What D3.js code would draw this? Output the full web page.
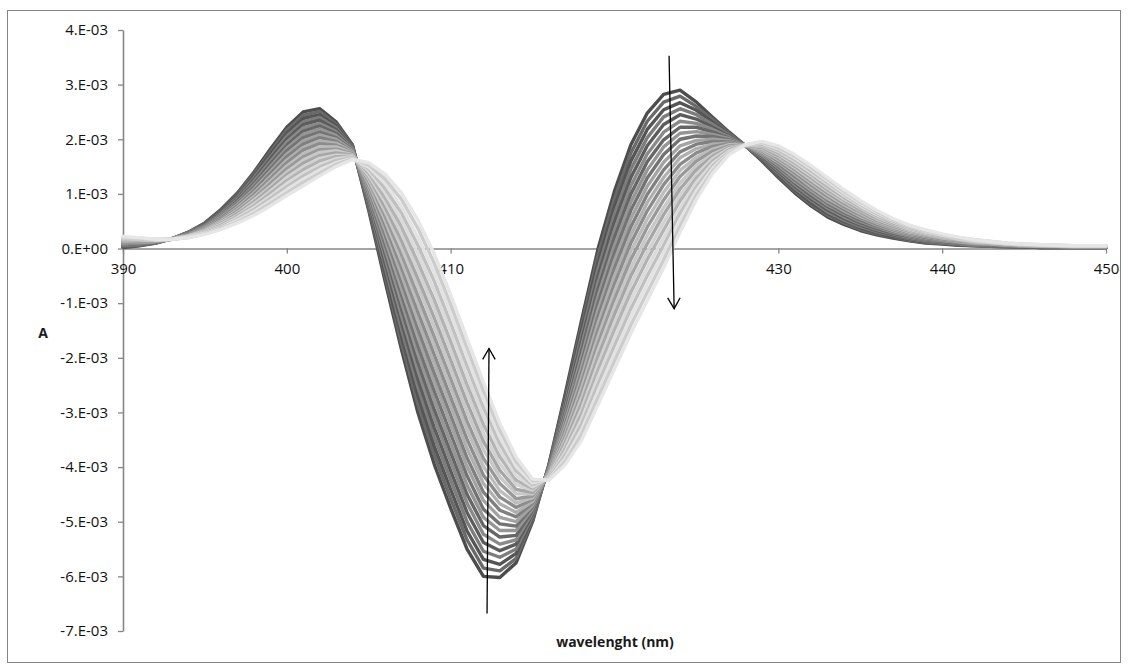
<!DOCTYPE html>
<html>
<head>
<meta charset="utf-8">
<script src="https://cdn.jsdelivr.net/npm/d3@7"></script>
<style>
  html, body { margin: 0; padding: 0; background: #ffffff; }
  svg { display: block; }
  text { font-family: "Open Sans", "Noto Sans", "Liberation Sans", sans-serif; fill: #1a1a1a; }
  .axis .tick text { font-size: 15px; fill: #111111; }
</style>
</head>
<body>
<svg id="chart" width="1128" height="670"></svg>
<script>
// Wavelength grid (nm) shared by every spectrum
const wavelengths = [
  390,391,392,393,394,395,396,397,398,399,
  400,401,402,403,404,405,406,407,408,409,
  410,411,412,413,414,415,416,417,418,419,
  420,421,422,423,424,425,426,427,428,429,
  430,431,432,433,434,435,436,437,438,439,
  440,441,442,443,444,445,446,447,448,449,450
];

// Axis ticks
const xTickValues = [390, 400, 410, 420, 430, 440, 450];
const yTickValues = [4, 3, 2, 1, 0, -1, -2, -3, -4, -5, -6, -7];
const yTickLabels = ["4.E-03","3.E-03","2.E-03","1.E-03","0.E+00","-1.E-03","-2.E-03","-3.E-03","-4.E-03","-5.E-03","-6.E-03","-7.E-03"];

// Spectra, absorbance in units of 1e-3, one array per recorded scan (first to last)
const scan01 = [0.02,0.05,0.10,0.18,0.30,0.47,0.72,1.02,1.40,1.82, 2.22,2.50,2.56,2.32,1.90,0.70,-0.60,-1.85,-3.00,-3.95, -4.75,-5.50,-6.00,-6.02,-5.75,-5.00,-3.95,-2.65,-1.30,0.00, 1.05,1.90,2.48,2.82,2.90,2.68,2.40,2.13,1.88,1.60, 1.30,1.02,0.78,0.58,0.44,0.33,0.25,0.19,0.14,0.10, 0.08,0.06,0.05,0.04,0.03,0.03,0.02,0.02,0.02,0.02,0.02];
const scan02 = [0.03,0.06,0.10,0.18,0.30,0.46,0.70,1.00,1.37,1.77, 2.17,2.44,2.51,2.28,1.89,0.74,-0.51,-1.73,-2.85,-3.78, -4.58,-5.33,-5.85,-5.90,-5.67,-4.97,-3.96,-2.71,-1.40,-0.12, 0.91,1.75,2.33,2.68,2.79,2.60,2.36,2.11,1.88,1.62, 1.33,1.05,0.81,0.61,0.47,0.35,0.27,0.21,0.15,0.11, 0.09,0.07,0.05,0.04,0.03,0.03,0.02,0.02,0.02,0.02,0.02];
const scan03 = [0.04,0.06,0.11,0.18,0.29,0.45,0.69,0.97,1.33,1.73, 2.11,2.38,2.45,2.25,1.88,0.78,-0.43,-1.60,-2.69,-3.62, -4.41,-5.17,-5.69,-5.78,-5.58,-4.93,-3.98,-2.76,-1.49,-0.25, 0.77,1.60,2.18,2.54,2.67,2.53,2.31,2.09,1.88,1.63, 1.35,1.08,0.84,0.64,0.50,0.38,0.29,0.22,0.17,0.12, 0.10,0.07,0.06,0.05,0.04,0.03,0.02,0.02,0.02,0.02,0.02];
const scan04 = [0.05,0.07,0.11,0.18,0.29,0.44,0.67,0.95,1.30,1.68, 2.06,2.32,2.40,2.21,1.86,0.81,-0.34,-1.48,-2.54,-3.45, -4.24,-5.00,-5.54,-5.65,-5.50,-4.90,-3.99,-2.82,-1.59,-0.37, 0.63,1.45,2.03,2.41,2.56,2.45,2.27,2.08,1.88,1.65, 1.38,1.11,0.88,0.67,0.52,0.40,0.31,0.24,0.18,0.13, 0.10,0.08,0.06,0.05,0.04,0.04,0.03,0.03,0.02,0.02,0.02];
const scan05 = [0.05,0.08,0.11,0.18,0.28,0.43,0.66,0.92,1.26,1.64, 2.00,2.27,2.35,2.18,1.85,0.85,-0.26,-1.35,-2.39,-3.28, -4.07,-4.83,-5.38,-5.53,-5.41,-4.86,-4.00,-2.88,-1.68,-0.50, 0.49,1.30,1.88,2.27,2.45,2.37,2.22,2.06,1.88,1.66, 1.40,1.14,0.91,0.71,0.55,0.43,0.33,0.25,0.19,0.14, 0.11,0.09,0.07,0.06,0.04,0.04,0.03,0.03,0.03,0.03,0.03];
const scan06 = [0.06,0.08,0.12,0.18,0.28,0.42,0.64,0.90,1.23,1.59, 1.95,2.21,2.29,2.14,1.84,0.89,-0.17,-1.23,-2.23,-3.11, -3.90,-4.66,-5.23,-5.41,-5.33,-4.83,-4.01,-2.93,-1.78,-0.62, 0.34,1.15,1.73,2.13,2.33,2.29,2.18,2.04,1.88,1.68, 1.43,1.17,0.94,0.74,0.58,0.45,0.35,0.27,0.20,0.15, 0.12,0.09,0.07,0.06,0.05,0.04,0.03,0.03,0.03,0.03,0.03];
const scan07 = [0.07,0.09,0.12,0.18,0.27,0.42,0.62,0.88,1.19,1.55, 1.89,2.15,2.24,2.11,1.83,0.93,-0.09,-1.10,-2.08,-2.95, -3.73,-4.50,-5.07,-5.28,-5.25,-4.80,-4.03,-2.99,-1.87,-0.74, 0.20,1.00,1.59,1.99,2.22,2.22,2.13,2.02,1.89,1.69, 1.45,1.20,0.97,0.77,0.61,0.47,0.37,0.28,0.22,0.16, 0.13,0.10,0.08,0.06,0.05,0.04,0.03,0.03,0.03,0.03,0.03];
const scan08 = [0.08,0.10,0.12,0.18,0.27,0.41,0.61,0.85,1.16,1.50, 1.84,2.09,2.19,2.07,1.82,0.96,0.00,-0.98,-1.93,-2.78, -3.56,-4.33,-4.92,-5.16,-5.16,-4.76,-4.04,-3.05,-1.97,-0.87, 0.06,0.85,1.44,1.86,2.11,2.14,2.09,2.01,1.89,1.71, 1.48,1.23,1.01,0.80,0.64,0.50,0.39,0.30,0.23,0.17, 0.14,0.11,0.08,0.07,0.05,0.05,0.04,0.03,0.03,0.03,0.03];
const scan09 = [0.09,0.10,0.12,0.18,0.27,0.40,0.59,0.83,1.13,1.46, 1.79,2.03,2.13,2.03,1.81,1.00,0.08,-0.85,-1.78,-2.61, -3.39,-4.16,-4.77,-5.04,-5.08,-4.73,-4.05,-3.10,-2.07,-0.99, -0.08,0.70,1.29,1.72,2.00,2.06,2.05,1.99,1.89,1.73, 1.50,1.26,1.04,0.83,0.66,0.52,0.41,0.32,0.24,0.18, 0.15,0.11,0.09,0.07,0.05,0.05,0.04,0.03,0.03,0.03,0.03];
const scan10 = [0.10,0.11,0.13,0.18,0.26,0.39,0.58,0.81,1.09,1.41, 1.73,1.97,2.08,2.00,1.79,1.04,0.17,-0.73,-1.62,-2.44, -3.22,-3.99,-4.61,-4.92,-5.00,-4.70,-4.06,-3.16,-2.16,-1.12, -0.22,0.55,1.14,1.58,1.88,1.98,2.00,1.97,1.89,1.74, 1.53,1.29,1.07,0.86,0.69,0.55,0.43,0.33,0.25,0.19, 0.15,0.12,0.09,0.08,0.06,0.05,0.04,0.04,0.03,0.03,0.03];
const scan11 = [0.11,0.12,0.13,0.18,0.26,0.38,0.56,0.78,1.06,1.37, 1.68,1.91,2.03,1.96,1.78,1.08,0.25,-0.60,-1.47,-2.28, -3.05,-3.83,-4.46,-4.79,-4.91,-4.66,-4.08,-3.22,-2.26,-1.24, -0.36,0.40,0.99,1.44,1.77,1.91,1.96,1.95,1.89,1.76, 1.55,1.32,1.10,0.89,0.72,0.57,0.45,0.35,0.27,0.20, 0.16,0.13,0.10,0.08,0.06,0.05,0.04,0.04,0.03,0.03,0.03];
const scan12 = [0.12,0.12,0.13,0.18,0.25,0.37,0.54,0.76,1.02,1.32, 1.62,1.85,1.97,1.93,1.77,1.12,0.34,-0.48,-1.32,-2.11, -2.88,-3.66,-4.30,-4.67,-4.83,-4.63,-4.09,-3.27,-2.35,-1.36, -0.50,0.25,0.84,1.30,1.66,1.83,1.91,1.93,1.89,1.77, 1.58,1.36,1.13,0.92,0.75,0.59,0.47,0.36,0.28,0.22, 0.17,0.13,0.10,0.08,0.06,0.05,0.04,0.04,0.03,0.03,0.03];
const scan13 = [0.12,0.13,0.14,0.17,0.25,0.36,0.53,0.73,0.99,1.28, 1.57,1.80,1.92,1.89,1.76,1.15,0.42,-0.35,-1.16,-1.94, -2.72,-3.49,-4.15,-4.55,-4.74,-4.59,-4.10,-3.33,-2.45,-1.49, -0.65,0.10,0.69,1.17,1.54,1.75,1.87,1.92,1.89,1.79, 1.60,1.39,1.17,0.96,0.77,0.62,0.49,0.38,0.29,0.23, 0.18,0.14,0.11,0.09,0.07,0.06,0.05,0.04,0.04,0.04,0.04];
const scan14 = [0.13,0.14,0.14,0.17,0.24,0.35,0.51,0.71,0.95,1.23, 1.51,1.74,1.86,1.86,1.75,1.19,0.51,-0.23,-1.01,-1.77, -2.55,-3.32,-3.99,-4.43,-4.66,-4.56,-4.11,-3.39,-2.54,-1.61, -0.79,-0.05,0.54,1.03,1.43,1.67,1.82,1.90,1.89,1.80, 1.63,1.42,1.20,0.99,0.80,0.64,0.50,0.39,0.30,0.24, 0.19,0.15,0.11,0.09,0.07,0.06,0.05,0.04,0.04,0.04,0.04];
const scan15 = [0.14,0.14,0.14,0.17,0.24,0.34,0.49,0.69,0.92,1.19, 1.46,1.68,1.81,1.82,1.74,1.23,0.59,-0.10,-0.86,-1.61, -2.38,-3.16,-3.84,-4.30,-4.58,-4.53,-4.13,-3.44,-2.64,-1.73, -0.93,-0.20,0.39,0.89,1.32,1.60,1.78,1.88,1.89,1.82, 1.65,1.45,1.23,1.02,0.83,0.67,0.52,0.41,0.32,0.25, 0.20,0.15,0.12,0.10,0.07,0.06,0.05,0.04,0.04,0.04,0.04];
const scan16 = [0.15,0.15,0.15,0.17,0.23,0.33,0.48,0.66,0.89,1.14, 1.40,1.62,1.76,1.79,1.72,1.27,0.68,0.02,-0.70,-1.44, -2.21,-2.99,-3.68,-4.18,-4.49,-4.49,-4.14,-3.50,-2.73,-1.86, -1.07,-0.35,0.24,0.75,1.20,1.52,1.73,1.86,1.89,1.83, 1.68,1.48,1.26,1.05,0.86,0.69,0.54,0.43,0.33,0.26, 0.20,0.16,0.12,0.10,0.08,0.06,0.05,0.05,0.04,0.04,0.04];
const scan17 = [0.16,0.15,0.15,0.17,0.23,0.32,0.46,0.64,0.85,1.10, 1.35,1.56,1.70,1.75,1.71,1.31,0.76,0.15,-0.55,-1.27, -2.04,-2.82,-3.53,-4.06,-4.41,-4.46,-4.15,-3.55,-2.83,-1.98, -1.21,-0.50,0.09,0.62,1.09,1.44,1.69,1.85,1.89,1.85, 1.70,1.51,1.30,1.08,0.89,0.71,0.56,0.44,0.34,0.27, 0.21,0.16,0.13,0.10,0.08,0.07,0.06,0.05,0.04,0.04,0.04];
const scan18 = [0.17,0.16,0.15,0.17,0.23,0.32,0.45,0.61,0.82,1.05, 1.30,1.50,1.65,1.71,1.70,1.34,0.85,0.27,-0.40,-1.10, -1.87,-2.65,-3.38,-3.94,-4.32,-4.42,-4.16,-3.61,-2.93,-2.11, -1.35,-0.65,-0.06,0.48,0.98,1.36,1.65,1.83,1.90,1.87, 1.73,1.54,1.33,1.11,0.91,0.74,0.58,0.46,0.35,0.28, 0.22,0.17,0.13,0.11,0.08,0.07,0.06,0.05,0.04,0.04,0.04];
const scan19 = [0.18,0.17,0.16,0.17,0.22,0.31,0.43,0.59,0.78,1.01, 1.24,1.44,1.60,1.68,1.69,1.38,0.93,0.40,-0.25,-0.94, -1.70,-2.49,-3.22,-3.81,-4.24,-4.39,-4.18,-3.67,-3.02,-2.23, -1.49,-0.80,-0.20,0.34,0.87,1.29,1.60,1.81,1.90,1.88, 1.75,1.57,1.36,1.14,0.94,0.76,0.60,0.47,0.37,0.29, 0.23,0.18,0.14,0.11,0.09,0.07,0.06,0.05,0.04,0.04,0.04];
const scan20 = [0.19,0.17,0.16,0.17,0.22,0.30,0.41,0.57,0.75,0.96, 1.19,1.38,1.54,1.64,1.68,1.42,1.02,0.52,-0.09,-0.77, -1.53,-2.32,-3.07,-3.69,-4.16,-4.36,-4.19,-3.72,-3.12,-2.35, -1.63,-0.95,-0.35,0.20,0.75,1.21,1.56,1.79,1.90,1.90, 1.78,1.60,1.39,1.18,0.97,0.78,0.62,0.49,0.38,0.30, 0.24,0.18,0.14,0.11,0.09,0.07,0.06,0.05,0.05,0.05,0.05];
const scan21 = [0.19,0.18,0.16,0.17,0.21,0.29,0.40,0.54,0.71,0.92, 1.13,1.33,1.49,1.61,1.67,1.46,1.10,0.65,0.06,-0.60, -1.36,-2.15,-2.91,-3.57,-4.07,-4.32,-4.20,-3.78,-3.21,-2.48, -1.78,-1.10,-0.50,0.06,0.64,1.13,1.51,1.77,1.90,1.91, 1.80,1.63,1.42,1.21,1.00,0.81,0.64,0.50,0.39,0.31, 0.25,0.19,0.15,0.12,0.09,0.07,0.06,0.05,0.05,0.05,0.05];
const scan22 = [0.20,0.19,0.16,0.17,0.21,0.28,0.38,0.52,0.68,0.87, 1.08,1.27,1.44,1.57,1.65,1.49,1.19,0.77,0.21,-0.44, -1.19,-1.99,-2.76,-3.45,-3.99,-4.29,-4.22,-3.84,-3.31,-2.60, -1.92,-1.25,-0.65,-0.07,0.53,1.06,1.47,1.76,1.90,1.93, 1.83,1.66,1.46,1.24,1.02,0.83,0.66,0.52,0.41,0.32, 0.25,0.20,0.15,0.12,0.09,0.08,0.07,0.06,0.05,0.05,0.05];
const scan23 = [0.21,0.19,0.17,0.17,0.20,0.27,0.37,0.49,0.64,0.83, 1.02,1.21,1.38,1.54,1.64,1.53,1.27,0.90,0.37,-0.27, -1.02,-1.82,-2.60,-3.32,-3.90,-4.25,-4.23,-3.89,-3.40,-2.73, -2.06,-1.40,-0.80,-0.21,0.41,0.98,1.42,1.74,1.90,1.94, 1.85,1.69,1.49,1.27,1.05,0.86,0.68,0.53,0.42,0.33, 0.26,0.20,0.16,0.13,0.10,0.08,0.07,0.06,0.05,0.05,0.05];
const scan24 = [0.22,0.20,0.17,0.17,0.20,0.26,0.35,0.47,0.61,0.78, 0.97,1.15,1.33,1.50,1.63,1.57,1.36,1.02,0.52,-0.10, -0.85,-1.65,-2.45,-3.20,-3.82,-4.22,-4.24,-3.95,-3.50,-2.85, -2.20,-1.55,-0.95,-0.35,0.30,0.90,1.38,1.72,1.90,1.96, 1.88,1.72,1.52,1.30,1.08,0.88,0.70,0.55,0.43,0.34, 0.27,0.21,0.16,0.13,0.10,0.08,0.07,0.06,0.05,0.05,0.05];

const scans = [scan01,scan02,scan03,scan04,scan05,scan06,scan07,scan08,scan09,scan10,scan11,scan12,
               scan13,scan14,scan15,scan16,scan17,scan18,scan19,scan20,scan21,scan22,scan23,scan24];

// Grey shades per scan: alternating monochrome cycle drifting from dark to light
const scanColors = [
  "#4d4d4d","#6a6a6a","#555555","#7d7d7d","#5c5c5c","#8a8a8a",
  "#666666","#969696","#737373","#a3a3a3","#808080","#b0b0b0",
  "#8c8c8c","#bdbdbd","#999999","#c8c8c8","#a6a6a6","#d2d2d2",
  "#b3b3b3","#dbdbdb","#c0c0c0","#e3e3e3","#cccccc","#e6e6e6"
];

const svg = d3.select("#chart");
const plot = { left: 123, right: 1106, top: 30, bottom: 631 };
const axisGrey = "#868686";
const fontStack = "\"Open Sans\", \"Noto Sans\", sans-serif";

const x = d3.scaleLinear().domain([390, 450]).range([plot.left, plot.right]);
const y = d3.scaleLinear().domain([-7, 4]).range([plot.bottom, plot.top]);

// chart frame
svg.append("rect")
  .attr("x", 7.5).attr("y", 10.5)
  .attr("width", 1113).attr("height", 652)
  .attr("fill", "#ffffff")
  .attr("stroke", axisGrey).attr("stroke-width", 1);

// value axis
const yAxis = svg.append("g")
  .attr("class", "axis")
  .attr("transform", `translate(${plot.left},0)`)
  .call(d3.axisLeft(y)
    .tickValues(yTickValues)
    .tickFormat((d, i) => yTickLabels[i])
    .tickSize(5).tickSizeOuter(0).tickPadding(10));

// category axis crossing at zero
const xAxis = svg.append("g")
  .attr("class", "axis")
  .attr("transform", `translate(0,${y(0)})`)
  .call(d3.axisBottom(x)
    .tickValues(xTickValues)
    .tickFormat(d3.format("d"))
    .tickSize(5).tickSizeOuter(0).tickPadding(10));

[yAxis, xAxis].forEach(g => {
  g.attr("font-family", null).attr("font-size", null);
  g.select(".domain").attr("stroke", axisGrey).attr("stroke-width", 1.6);
  g.selectAll(".tick line").attr("stroke", axisGrey).attr("stroke-width", 1.3);
  g.selectAll(".tick text")
    .style("font-family", fontStack)
    .style("font-size", "15px")
    .attr("fill", "#111111");
});

// spectra
const line = d3.line()
  .x((d, i) => x(wavelengths[i]))
  .y(d => y(d));

svg.append("g").selectAll("path")
  .data(scans)
  .join("path")
  .attr("d", d => line(d))
  .attr("fill", "none")
  .attr("stroke", (d, i) => scanColors[i])
  .attr("stroke-width", 3.4)
  .attr("stroke-linejoin", "round")
  .attr("stroke-linecap", "round");

// axis titles
svg.append("text")
  .attr("x", 43).attr("y", 334)
  .attr("text-anchor", "middle").attr("dominant-baseline", "middle")
  .style("font-family", fontStack)
  .style("font-size", "14px").style("font-weight", "bold")
  .text("A");

svg.append("text")
  .attr("x", 615).attr("y", 643)
  .attr("text-anchor", "middle").attr("dominant-baseline", "middle")
  .style("font-family", fontStack)
  .style("font-size", "14px").style("font-weight", "bold")
  .text("wavelenght (nm)");

// trend arrows (wavelength, absorbance x1e-3)
const arrows = [
  { from: [412.22, -6.68], to: [412.34, -1.83] },
  { from: [423.33, 3.53], to: [423.64, -1.10] }
];

const arrowLayer = svg.append("g").attr("stroke", "#000").attr("stroke-width", 1.3).attr("fill", "none");
arrows.forEach(a => {
  const x1 = x(a.from[0]), y1 = y(a.from[1]);
  const x2 = x(a.to[0]), y2 = y(a.to[1]);
  arrowLayer.append("line").attr("x1", x1).attr("y1", y1).attr("x2", x2).attr("y2", y2);
  const ang = Math.atan2(y2 - y1, x2 - x1);
  const len = 12.5, spread = Math.PI / 6;
  const p1 = [x2 - len * Math.cos(ang - spread), y2 - len * Math.sin(ang - spread)];
  const p2 = [x2 - len * Math.cos(ang + spread), y2 - len * Math.sin(ang + spread)];
  arrowLayer.append("polyline")
    .attr("points", `${p1[0]},${p1[1]} ${x2},${y2} ${p2[0]},${p2[1]}`);
});
</script>
</body>
</html>
